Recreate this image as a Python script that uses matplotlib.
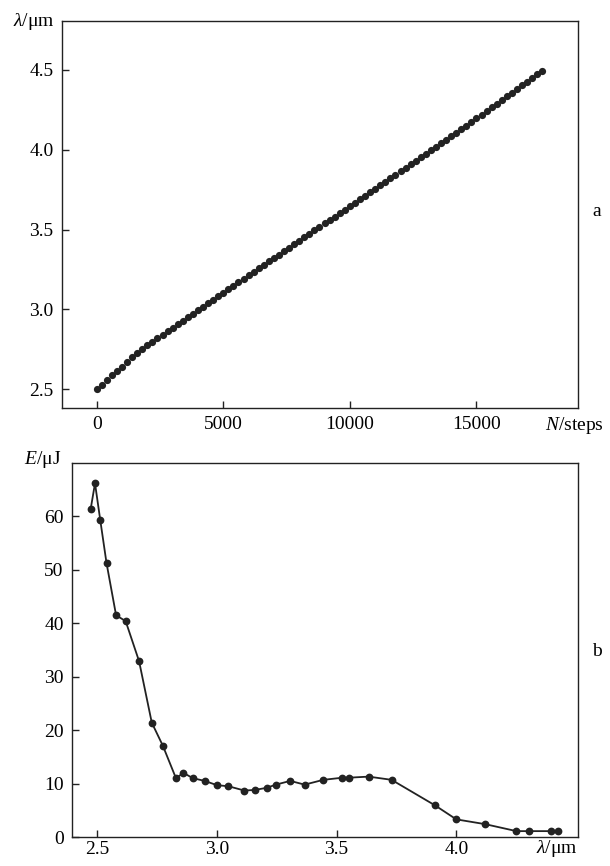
import numpy as np
import matplotlib
matplotlib.use("Agg")
import matplotlib.pyplot as plt

plt.rcParams['font.family'] = ['Liberation Serif', 'DejaVu Serif']
plt.rcParams['mathtext.fontset'] = 'custom'
plt.rcParams['mathtext.rm'] = 'Liberation Serif'
plt.rcParams['mathtext.it'] = 'Liberation Serif:italic'

# panel a: wavelength vs motor steps
steps = np.arange(0, 17601, 200)
wavelength = [2.500, 2.528, 2.556, 2.585, 2.613, 2.641, 2.669, 2.698, 2.726,
              2.751, 2.773, 2.795, 2.818, 2.840, 2.862, 2.884, 2.906, 2.928,
              2.950, 2.973, 2.995, 3.017, 3.039, 3.061, 3.083,
              3.105, 3.127, 3.148, 3.170, 3.192, 3.213, 3.235, 3.257, 3.278,
              3.300, 3.321, 3.343, 3.365, 3.386, 3.408, 3.430, 3.451, 3.473,
              3.494, 3.516, 3.538, 3.559, 3.581,
              3.603, 3.625, 3.646, 3.668, 3.690, 3.712, 3.734, 3.756, 3.778,
              3.800, 3.821, 3.843, 3.865, 3.887, 3.909, 3.931, 3.953, 3.974,
              3.996, 4.018, 4.040, 4.062, 4.083, 4.105,
              4.127, 4.150, 4.173, 4.196, 4.219, 4.242, 4.265, 4.288, 4.311,
              4.334, 4.357, 4.380, 4.403, 4.426, 4.449, 4.472, 4.495]

# panel b: pulse energy vs wavelength
lam_b = [2.474, 2.492, 2.514, 2.540, 2.580, 2.620, 2.676, 2.729, 2.775, 2.830,
         2.861, 2.901, 2.950, 3.001, 3.049, 3.115, 3.158, 3.208, 3.247, 3.307,
         3.367, 3.445, 3.525, 3.551, 3.634, 3.730, 3.912, 4.000, 4.121, 4.251,
         4.304, 4.397, 4.425]
energy = [61.4, 66.2, 59.3, 51.3, 41.5, 40.4, 32.9, 21.4, 17.1, 11.0,
          12.0, 11.0, 10.5, 9.7, 9.5, 8.7, 8.8, 9.2, 9.8, 10.5,
          9.8, 10.7, 11.1, 11.1, 11.3, 10.7, 5.9, 3.3, 2.4, 1.1,
          1.1, 1.1, 1.1]

col = '#222222'
fs = 14
fig = plt.figure(figsize=(6.1, 8.66), dpi=100)

ax1 = fig.add_axes([62/610, 1-407.7/866, 516/610, 386.7/866])
ax1.plot(steps, wavelength, 'o', color=col, ms=5.2, mew=0)
ax1.set_xlim(-1370, 19010)
ax1.set_ylim(2.383, 4.807)
ax1.set_xticks([0, 5000, 10000, 15000])
ax1.set_yticks([2.5, 3.0, 3.5, 4.0, 4.5])
ax1.set_yticklabels(['2.5', '3.0', '3.5', '4.0', '4.5'])
ax1.tick_params(direction='in', length=5, width=1, labelsize=fs, color=col)
ax1.tick_params(axis='x', pad=6)
ax1.tick_params(axis='y', pad=6)
ax1.text(-0.015, 1.0, r'$\mathit{λ}$/μm', transform=ax1.transAxes,
         ha='right', va='center', fontsize=fs)
ax1.text(1.05, -0.045, r'$\mathit{N}$/steps', transform=ax1.transAxes,
         ha='right', va='center', fontsize=fs)
fig.text(597/610, 1-212/866, 'a', ha='center', va='center', fontsize=fs)

ax2 = fig.add_axes([72/610, 1-837/866, 506/610, 374/866])
ax2.plot(lam_b, energy, '-o', color=col, ms=5.6, mew=0, lw=1.3)
ax2.set_xlim(2.396, 4.508)
ax2.set_ylim(0, 70)
ax2.set_xticks([2.5, 3.0, 3.5, 4.0])
ax2.set_xticklabels(['2.5', '3.0', '3.5', '4.0'])
ax2.set_yticks([0, 10, 20, 30, 40, 50, 60])
ax2.tick_params(direction='in', length=5, width=1, labelsize=fs, color=col)
ax2.tick_params(axis='x', pad=3)
ax2.tick_params(axis='y', pad=6)
ax2.text(-0.022, 1.01, r'$\mathit{E}$/μJ', transform=ax2.transAxes,
         ha='right', va='center', fontsize=fs)
ax2.text(1.0, -0.03, r'$\mathit{λ}$/μm', transform=ax2.transAxes,
         ha='right', va='center', fontsize=fs)
fig.text(597/610, 1-652/866, 'b', ha='center', va='center', fontsize=fs)

for ax in (ax1, ax2):
    for s in ax.spines.values():
        s.set_linewidth(1.0)
        s.set_color(col)

fig.savefig('out.png', dpi=100)
